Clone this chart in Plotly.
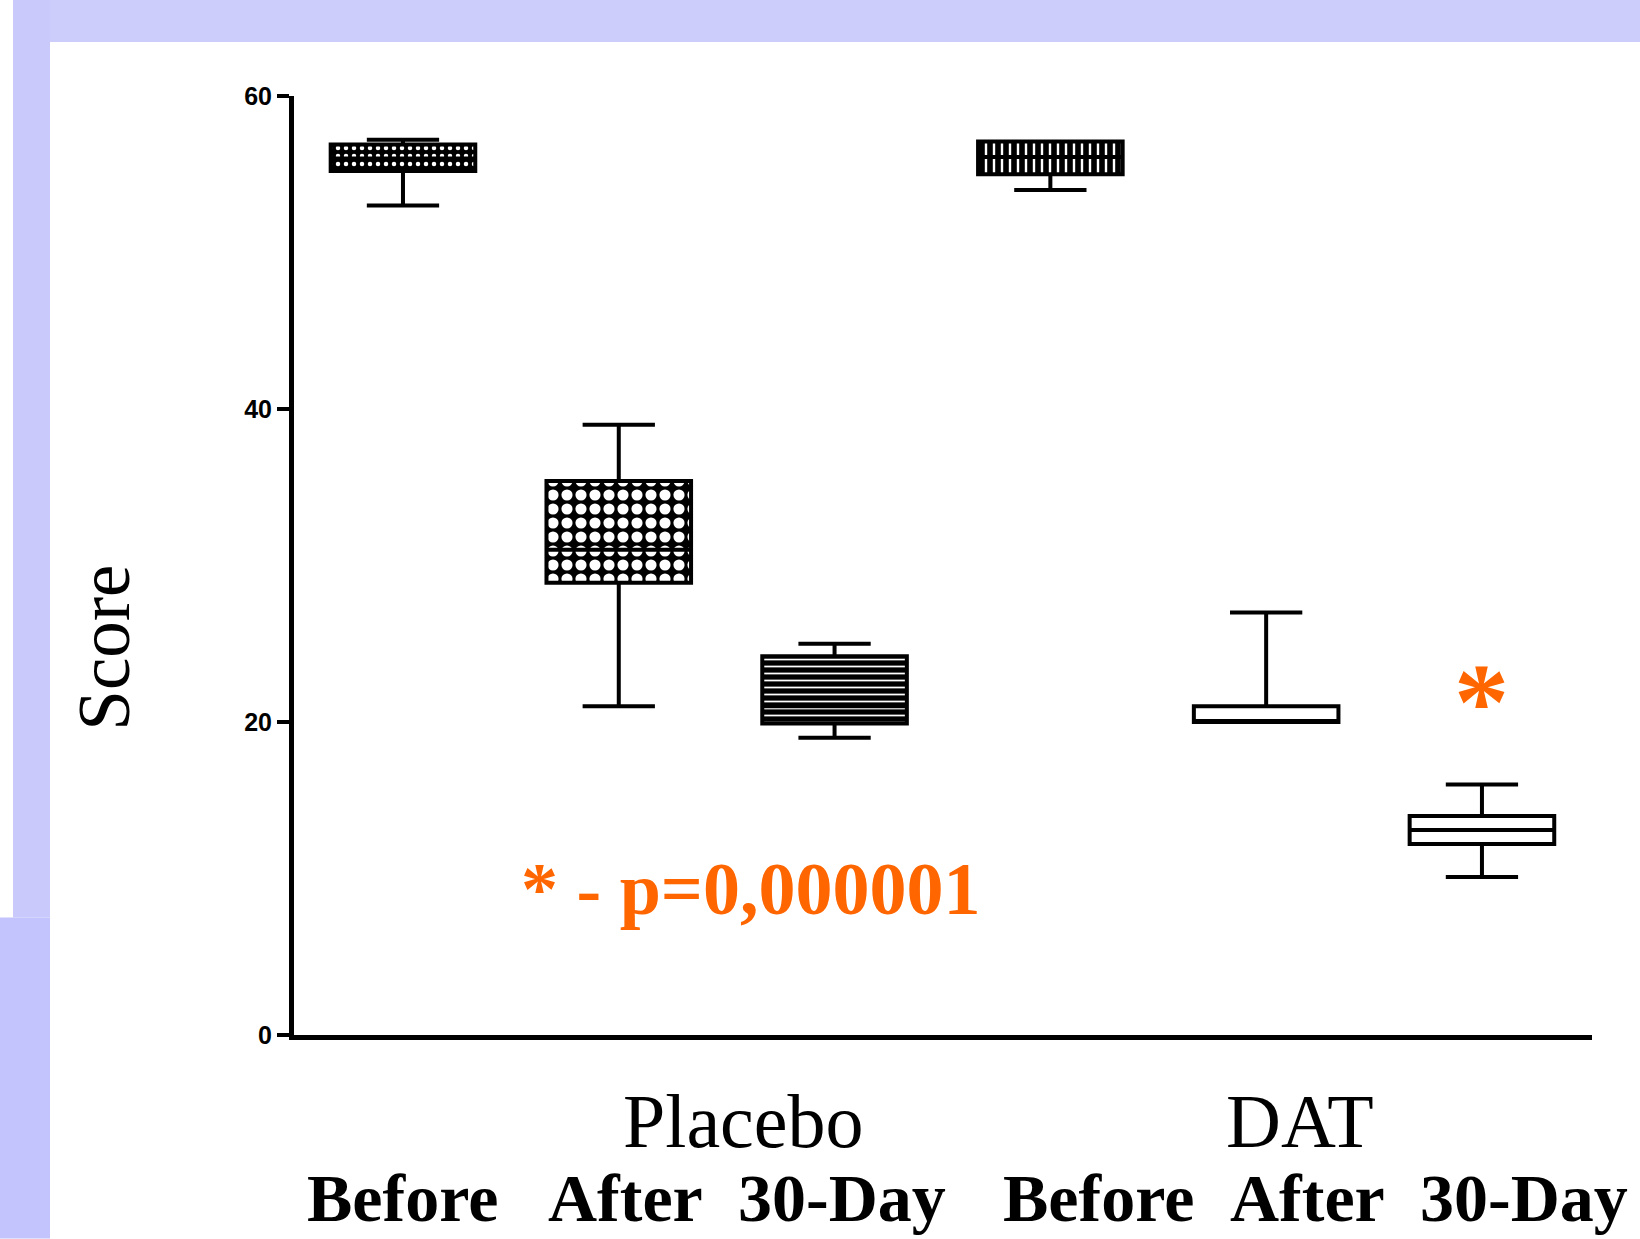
import plotly.graph_objects as go

# ---------------- data ----------------
groups = ["Placebo", "DAT"]
time_labels = ["Before", "After", "30-Day", "Before", "After", "30-Day"]
positions = [0, 1, 2, 3, 4, 5]
q1_vals = [55.2, 28.9, 19.9, 55.0, 20.0, 12.2]
median_vals = [56.0, 31.0, 21.0, 56.1, 20.0, 13.1]
q3_vals = [56.9, 35.4, 24.2, 57.1, 21.0, 14.0]
lower_vals = [53.0, 21.0, 19.0, 54.0, 20.0, 10.1]
upper_vals = [57.2, 39.0, 25.0, 57.1, 27.0, 16.0]
y_ticks = [0, 20, 40, 60]
p_text = "* - p=0,000001"

# pattern styling per box
pat_shapes = [".", ".", "-", "|", "", ""]
pat_fg = ["white", "white", "white", "white", "white", "white"]
pat_bg = ["black", "black", "black", "black", "white", "white"]
pat_size = [8, 14, 7, 8, 8, 8]
pat_solid = [0.25, 0.5, 0.25, 0.3, 0.2, 0.2]

W, H = 1640, 1239
L, R, T, B = 294, 48, 96, 203.5
pw, ph = W - L - R, H - T - B

def px(x):
    return (x - L) / pw

def py(y):
    return (H - B - y) / ph

BOXW = 0.67

fig = go.Figure()

fig.add_trace(go.Bar(
    x=positions,
    y=[q3 - q1 for q1, q3 in zip(q1_vals, q3_vals)],
    base=q1_vals,
    width=BOXW,
    marker=dict(
        color=pat_bg,
        line=dict(width=0),
        pattern=dict(shape=pat_shapes, fgcolor=pat_fg,
                     size=pat_size, solidity=pat_solid,
                     fillmode="overlay", fgopacity=1),
    ),
    showlegend=False,
    hoverinfo="skip",
))

fig.add_trace(go.Box(
    x=positions,
    q1=q1_vals, median=median_vals, q3=q3_vals,
    lowerfence=lower_vals, upperfence=upper_vals,
    width=BOXW, whiskerwidth=0.5,
    line=dict(color="black", width=4),
    fillcolor="rgba(0,0,0,0)",
    boxpoints=False,
    showlegend=False,
))

# background decorations (lavender frame)
shapes = [
    dict(type="rect", xref="paper", yref="paper", x0=px(13), x1=px(W), y0=py(0), y1=py(42),
         fillcolor="#CDCDFC", line=dict(width=0), layer="below"),
    dict(type="rect", xref="paper", yref="paper", x0=px(13), x1=px(50), y0=py(0), y1=py(918),
         fillcolor="#C9C9FC", line=dict(width=0), layer="below"),
    dict(type="rect", xref="paper", yref="paper", x0=px(0), x1=px(50), y0=py(918), y1=py(H),
         fillcolor="#C3C3FD", line=dict(width=0), layer="below"),
]

serif = "Liberation Serif, Times New Roman, serif"
ann = []
# Score title
ann.append(dict(text="Score", xref="paper", yref="paper", x=px(105), y=py(648),
                textangle=-90, showarrow=False, font=dict(family=serif, size=73, color="black"),
                xanchor="center", yanchor="middle"))
# group labels
for g, cx in zip(groups, [743, 1300]):
    ann.append(dict(text=g, xref="paper", yref="paper", x=px(cx), y=py(1122),
                    showarrow=False, font=dict(family=serif, size=76, color="black"),
                    xanchor="center", yanchor="middle"))
# time labels
for t, cx in zip(time_labels, [402, 625, 842, 1098, 1307, 1524]):
    ann.append(dict(text=t, xref="paper", yref="paper", x=px(cx), y=py(1199),
                    showarrow=False, font=dict(family=serif, size=68, color="black", weight="bold"),
                    xanchor="center", yanchor="middle"))
# p-value text
ann.append(dict(text=p_text, xref="paper", yref="paper", x=px(750), y=py(889),
                showarrow=False, font=dict(family=serif, size=74, color="#FF6600", weight="bold"),
                xanchor="center", yanchor="middle"))
# significance asterisk
ann.append(dict(text="*", xref="x", yref="paper", x=positions[5], y=py(702),
                showarrow=False, font=dict(family=serif, size=110, color="#FF6600", weight="bold"),
                xanchor="center", yanchor="middle"))

fig.update_layout(
    width=W, height=H,
    margin=dict(l=L, r=R, t=T, b=B, pad=0),
    paper_bgcolor="white", plot_bgcolor="white",
    barmode="overlay", boxmode="overlay",
    shapes=shapes, annotations=ann,
    xaxis=dict(range=[-0.505, 5.51], showgrid=False, zeroline=False, showline=True,
               linecolor="black", linewidth=5, showticklabels=False, ticks=""),
    yaxis=dict(range=[0, 60], tickvals=y_ticks, showgrid=False, zeroline=False, showline=True,
               linecolor="black", linewidth=5, ticks="outside", ticklen=12, tickwidth=4,
               tickcolor="black",
               tickfont=dict(family="Liberation Sans, Arial, sans-serif", size=25,
                             color="black", weight="bold")),
)

fig.write_html("out.html", config={"displayModeBar": False},
               post_script="document.body.style.margin='0';document.body.style.overflow='hidden';")
